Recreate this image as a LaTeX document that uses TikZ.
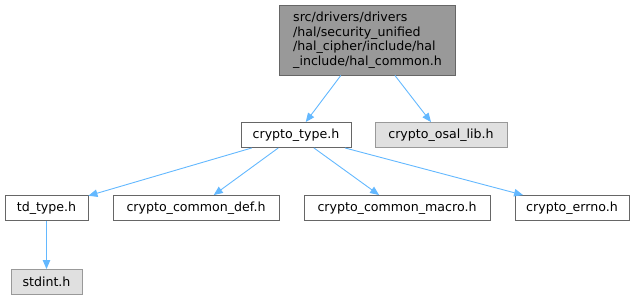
\documentclass[tikz,border=0pt]{standalone}
\usepackage{fontspec}
\setmainfont{DejaVu Sans}
\usetikzlibrary{arrows.meta,positioning}
\definecolor{cMain}{HTML}{999999}
\definecolor{cMainLine}{HTML}{666666}
\definecolor{cExt}{HTML}{E0E0E0}
\definecolor{cExtLine}{HTML}{999999}
\definecolor{cEdge}{HTML}{63B8FF}

\begin{document}
\begin{tikzpicture}[
    x=1pt, y=-1pt,
    font=\fontsize{12.6}{14.6}\selectfont,
    file/.style={draw=cMainLine, fill=white, line width=0.9pt, inner sep=0pt, minimum height=25pt},
    extfile/.style={file, draw=cExtLine, fill=cExt},
    arr/.style={-{Triangle[length=9pt,width=7.5pt]}, line width=0.9pt, draw=cEdge}
]
\useasboundingbox (0,0) rectangle (637,300);

\node[file, fill=cMain, minimum width=176pt, minimum height=70pt, align=left] (common) at (367.5,40) {src/drivers/drivers\\/hal/security\_unified\\/hal\_cipher/include/hal\\\_include/hal\_common.h};

\node[file, minimum width=110pt] (ctype) at (296,135) {crypto\_type.h};
\node[extfile, minimum width=132pt] (osal) at (441,135) {crypto\_osal\_lib.h};

\node[file, minimum width=83pt] (tdtype) at (46.5,208) {td\_type.h};
\node[file, minimum width=166pt] (cdef) at (196,208) {crypto\_common\_def.h};
\node[file, minimum width=186pt] (cmacro) at (397,208) {crypto\_common\_macro.h};
\node[file, minimum width=114pt] (cerrno) at (572,208) {crypto\_errno.h};

\node[extfile, minimum width=71pt] (stdint) at (46.5,282) {stdint.h};

\draw[arr] (common) -- (ctype);
\draw[arr] (common) -- (osal);
\draw[arr] (ctype) -- (tdtype);
\draw[arr] (ctype) -- (cdef);
\draw[arr] (ctype) -- (cmacro);
\draw[arr] (ctype) -- (cerrno);
\draw[arr] (tdtype) -- (stdint);

\end{tikzpicture}
\end{document}
